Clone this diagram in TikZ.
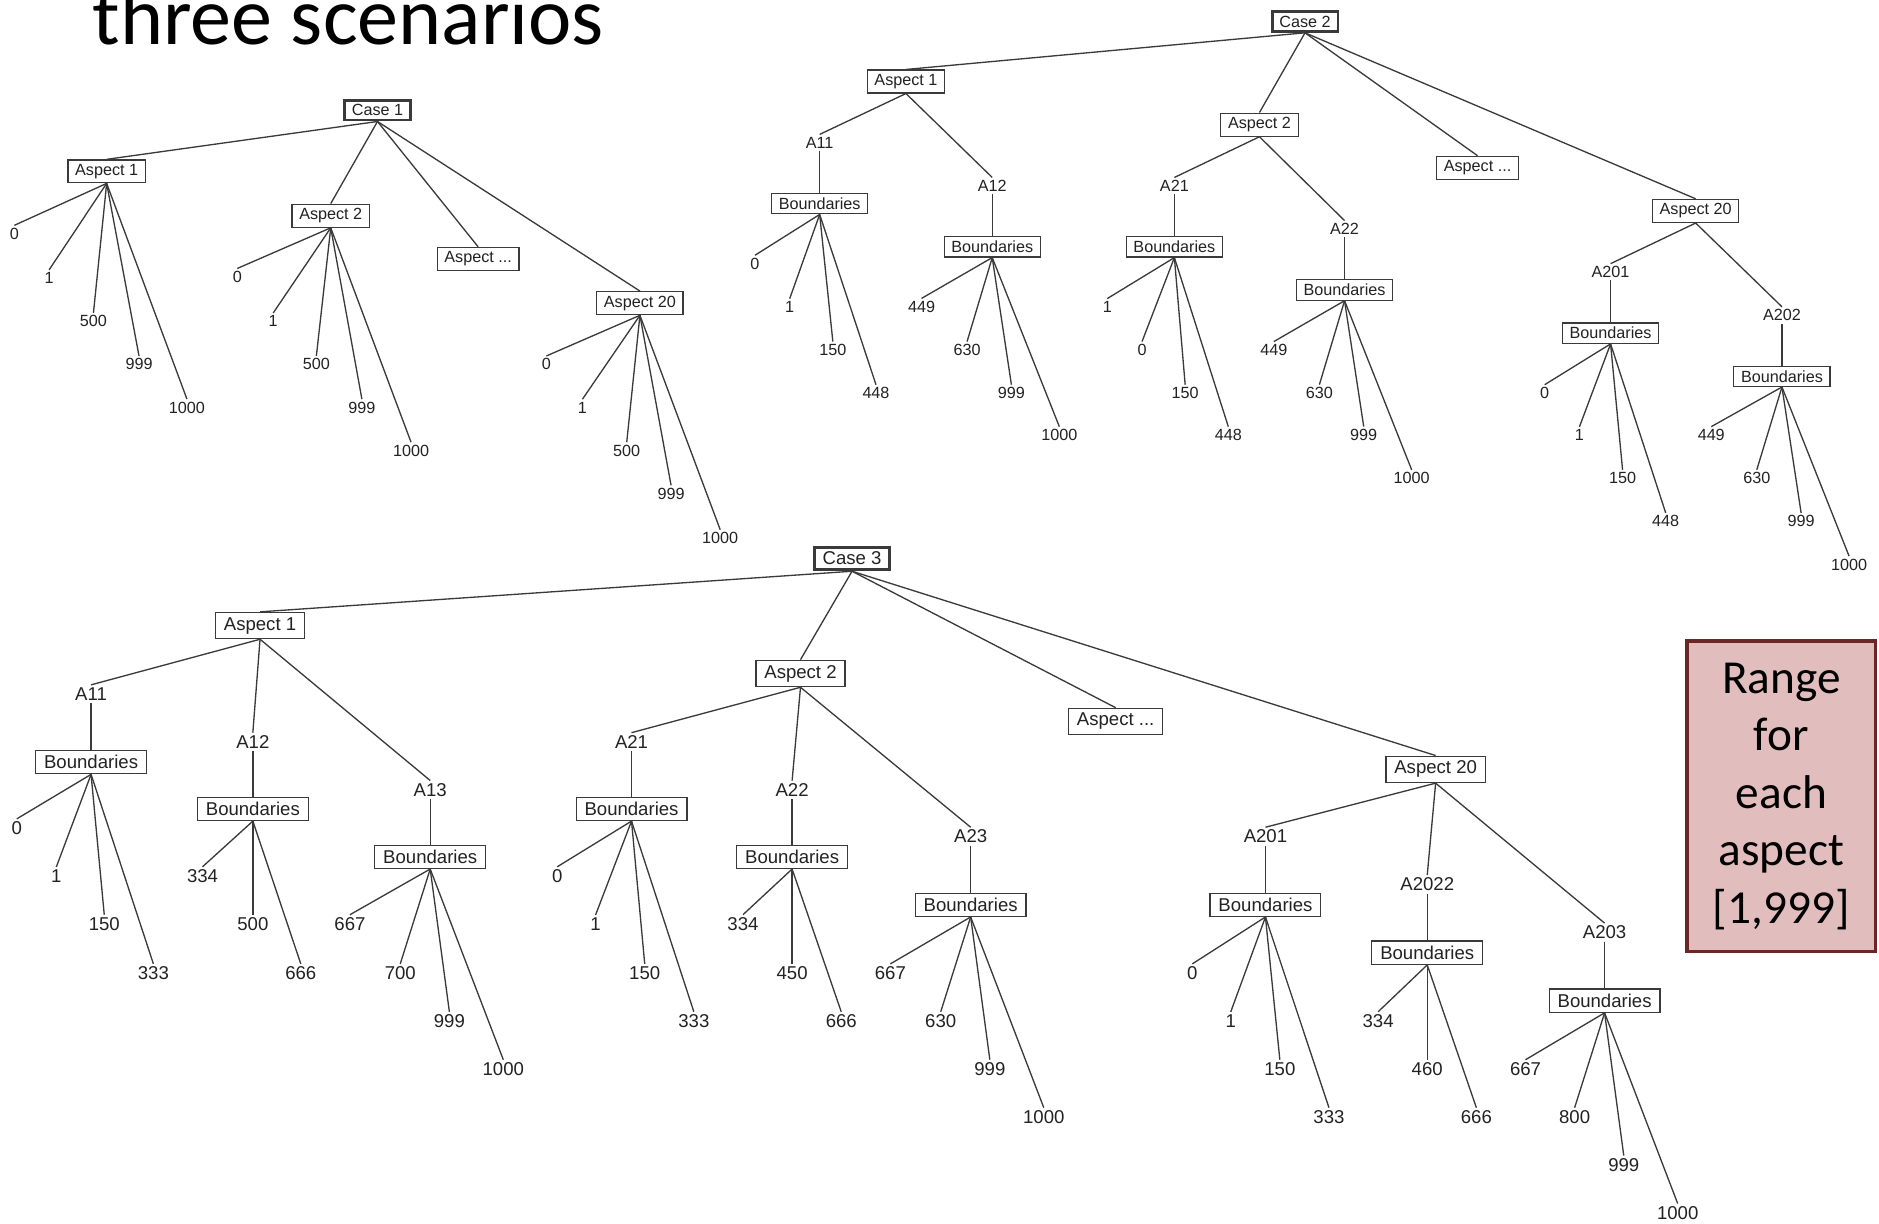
\documentclass[tikz,border=0pt]{standalone}
\usepackage{fontspec}
\setmainfont{Liberation Sans}
\newfontfamily\calib{Carlito}
\definecolor{ln}{HTML}{3A3A3A}
\definecolor{txt}{HTML}{222222}
\definecolor{maroonb}{HTML}{6B2626}
\definecolor{pinkf}{HTML}{E2BDBD}
\tikzset{
 bx/.style={draw=ln, line width=1pt, fill=white, text=txt, inner xsep=6pt, inner ysep=3.5pt, font=\fontsize{13.5}{15}\selectfont},
 bxthree/.style={bx, inner xsep=7pt, inner ysep=4pt, font=\fontsize{15.5}{17}\selectfont},
 casebx/.style={bx, line width=2.2pt},
 casebxthree/.style={bxthree, line width=2.4pt},
 lf/.style={inner sep=2pt, text=txt, font=\fontsize{13.5}{15}\selectfont},
 lfthree/.style={lf, font=\fontsize{15.5}{17}\selectfont},
 edge/.style={draw=ln, line width=1.1pt},
}
\newcommand\leaves[3][lf]{\foreach \lab/\lx/\ly [count=\i] in {#3}{\node[#1] (#2-\i) at (\lx,\ly) {\lab}; \draw[edge] (#2.south) -- (#2-\i.north);}}
\begin{document}
\begin{tikzpicture}[x=1pt,y=-1pt]
\clip (0,0) rectangle (1568,1021);
\fill[white] (0,0) rectangle (1568,1021);
\node[anchor=base west, inner sep=0pt, text=black, font=\calib\fontsize{68.5}{72}\selectfont] (title) at (77,37) {three scenarios};

% ---------------- Case 1
\node[casebx] (c1) at (315,92) {Case 1};
\node[bx] (c1a1) at (89,143) {Aspect 1};
\node[bx] (c1a2) at (276,180) {Aspect 2};
\node[bx] (c1a3) at (399,216) {Aspect ...};
\node[bx] (c1a20) at (534,253) {Aspect 20};
\foreach \n in {c1a1,c1a2,c1a3,c1a20} \draw[edge] (c1.south) -- (\n.north);
\leaves{c1a1}{0/12/195,1/41/232,500/78/268,999/116/304,1000/156/340}
\leaves{c1a2}{0/198/231,1/228/268,500/264/304,999/302/340,1000/343/376}
\leaves{c1a20}{0/456/304,1/486/340,500/523/376,999/560/412,1000/601/449}

% ---------------- Case 2
\node[casebx] (c2) at (1089,18) {Case 2};
\node[bx] (c2a1) at (756,68) {Aspect 1};
\node[bx] (c2a2) at (1051,104) {Aspect 2};
\node[bx] (c2a3) at (1233,140) {Aspect ...};
\node[bx] (c2a20) at (1415,176) {Aspect 20};
\foreach \n in {c2a1,c2a2,c2a3,c2a20} \draw[edge] (c2.south) -- (\n.north);
% aspect 1
\node[lf] (c2a11) at (684,119) {A11};
\node[lf] (c2a12) at (828,155) {A12};
\draw[edge] (c2a1.south) -- (c2a11.north);
\draw[edge] (c2a1.south) -- (c2a12.north);
\node[bx] (c2b11) at (684,170) {Boundaries};
\node[bx] (c2b12) at (828,206) {Boundaries};
\draw[edge] (c2a11.south) -- (c2b11.north);
\draw[edge] (c2a12.south) -- (c2b12.north);
\leaves{c2b11}{0/630/220,1/659/256,150/695/292,448/731/328}
\leaves{c2b12}{449/769/256,630/807/292,999/844/328,1000/884/363}
% aspect 2
\node[lf] (c2a21) at (980,155) {A21};
\node[lf] (c2a22) at (1122,191) {A22};
\draw[edge] (c2a2.south) -- (c2a21.north);
\draw[edge] (c2a2.south) -- (c2a22.north);
\node[bx] (c2b21) at (980,206) {Boundaries};
\node[bx] (c2b22) at (1122,242) {Boundaries};
\draw[edge] (c2a21.south) -- (c2b21.north);
\draw[edge] (c2a22.south) -- (c2b22.north);
\leaves{c2b21}{1/924/256,0/953/292,150/989/328,448/1025/363}
\leaves{c2b22}{449/1063/292,630/1101/328,999/1138/363,1000/1178/399}
% aspect 20
\node[lf] (c2a201) at (1344,227) {A201};
\node[lf] (c2a202) at (1487,263) {A202};
\draw[edge] (c2a20.south) -- (c2a201.north);
\draw[edge] (c2a20.south) -- (c2a202.north);
\node[bx] (c2b201) at (1344,278) {Boundaries};
\node[bx] (c2b202) at (1487,314) {Boundaries};
\draw[edge] (c2a201.south) -- (c2b201.north);
\draw[edge] (c2a202.south) -- (c2b202.north);
\leaves{c2b201}{0/1289/328,1/1318/363,150/1354/399,448/1390/435}
\leaves{c2b202}{449/1428/363,630/1466/399,999/1503/435,1000/1543/471}

% ---------------- Case 3
\node[casebxthree] (c3) at (711,466) {Case 3};
\node[bxthree] (c3a1) at (217,522) {Aspect 1};
\node[bxthree] (c3a2) at (668,562) {Aspect 2};
\node[bxthree] (c3a3) at (931,602) {Aspect ...};
\node[bxthree] (c3a20) at (1198,642) {Aspect 20};
\foreach \n in {c3a1,c3a2,c3a3,c3a20} \draw[edge] (c3.south) -- (\n.north);
% aspect 1
\node[lfthree] (c3a11) at (76,579) {A11};
\node[lfthree] (c3a12) at (211,619) {A12};
\node[lfthree] (c3a13) at (359,659) {A13};
\foreach \n in {c3a11,c3a12,c3a13} \draw[edge] (c3a1.south) -- (\n.north);
\node[bxthree] (c3b11) at (76,636) {Boundaries};
\node[bxthree] (c3b12) at (211,675) {Boundaries};
\node[bxthree] (c3b13) at (359,715) {Boundaries};
\draw[edge] (c3a11.south) -- (c3b11.north);
\draw[edge] (c3a12.south) -- (c3b12.north);
\draw[edge] (c3a13.south) -- (c3b13.north);
\leaves[lfthree]{c3b11}{0/14/691,1/47/731,150/87/771,333/128/812}
\leaves[lfthree]{c3b12}{334/169/731,500/211/771,666/251/812}
\leaves[lfthree]{c3b13}{667/292/771,700/334/812,999/375/852,1000/420/892}
% aspect 2
\node[lfthree] (c3a21) at (527,619) {A21};
\node[lfthree] (c3a22) at (661,659) {A22};
\node[lfthree] (c3a23) at (810,698) {A23};
\foreach \n in {c3a21,c3a22,c3a23} \draw[edge] (c3a2.south) -- (\n.north);
\node[bxthree] (c3b21) at (527,675) {Boundaries};
\node[bxthree] (c3b22) at (661,715) {Boundaries};
\node[bxthree] (c3b23) at (810,755) {Boundaries};
\draw[edge] (c3a21.south) -- (c3b21.north);
\draw[edge] (c3a22.south) -- (c3b22.north);
\draw[edge] (c3a23.south) -- (c3b23.north);
\leaves[lfthree]{c3b21}{0/465/731,1/497/771,150/538/812,333/579/852}
\leaves[lfthree]{c3b22}{334/620/771,450/661/812,666/702/852}
\leaves[lfthree]{c3b23}{667/743/812,630/785/852,999/826/892,1000/871/932}
% aspect 20
\node[lfthree] (c3a201) at (1056,698) {A201};
\node[lfthree] (c3a202) at (1191,738) {A2022};
\node[lfthree] (c3a203) at (1339,778) {A203};
\foreach \n in {c3a201,c3a202,c3a203} \draw[edge] (c3a20.south) -- (\n.north);
\node[bxthree] (c3b201) at (1056,755) {Boundaries};
\node[bxthree] (c3b202) at (1191,795) {Boundaries};
\node[bxthree] (c3b203) at (1339,835) {Boundaries};
\draw[edge] (c3a201.south) -- (c3b201.north);
\draw[edge] (c3a202.south) -- (c3b202.north);
\draw[edge] (c3a203.south) -- (c3b203.north);
\leaves[lfthree]{c3b201}{0/995/812,1/1027/852,150/1068/892,333/1109/932}
\leaves[lfthree]{c3b202}{334/1150/852,460/1191/892,666/1232/932}
\leaves[lfthree]{c3b203}{667/1273/892,800/1314/932,999/1355/972,1000/1400/1012}

% ---------------- Range box
\node[draw=maroonb, line width=3pt, fill=pinkf, minimum width=157pt, minimum height=259pt, align=center, text=black, inner sep=0pt, font=\calib\fontsize{39.5}{48}\selectfont] (range) at (1486.5,664.5) {Range\\for\\each\\aspect\\{}[1,999]};
\end{tikzpicture}
\end{document}
